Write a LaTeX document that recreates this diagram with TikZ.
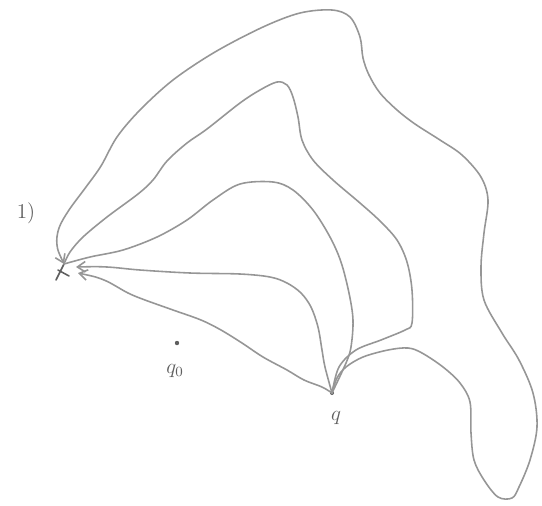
\documentclass[tikz,border=0pt]{standalone}
\usepackage{amsmath}
\usetikzlibrary{arrows.meta,calc}
\definecolor{pencil}{RGB}{150,150,150}
\definecolor{pencilD}{RGB}{95,95,95}
\newcommand{\TS}{0.55}

\begin{document}
\begin{tikzpicture}[
    x=0.02cm, y=-0.02cm,
    bond/.style={draw=pencil, line width=0.9pt, line cap=round, line join=round},
    tobase/.style={bond, arrows={Straight Barb[length=4.5pt,width=6pt]-}},
    tag/.style={font=\large, text=pencilD},
  ]
  \useasboundingbox (0,0) rectangle (542,505);

  %% ================= the two points and their labels =================
  \coordinate (base) at (64,264);
  \coordinate (q)    at (332,393);
  \coordinate (qz)   at (177,343);
  \node[tag] (one)   at (26,213)  {$1)$};
  \node[tag] (qlab)  at (336,418) {$q$};
  \node[tag] (qzlab) at (175,371) {$q_{0}$};
  \fill[pencilD] (qz) circle (2.2);
  \fill[pencilD] (q)  circle (2.0);
  \draw[bond, draw=pencilD] (base) -- +(-8,16);   % the little cross at the base point
  \draw[bond, draw=pencilD] (base) ++(-6,6) -- +(11,6);

  %% ================= the five paths from q back to the base =================
  %% ---- outer one: over the top and round the lobe ----
  \draw[tobase] plot[smooth, tension=\TS] coordinates {
    (base) (57,245) (59,228) (69,210) (86,187) (101,166) (117,137)
    (140,110) (173,80) (215,52) (263,27) (300,13) (332,10) (350,17) (360,37)
    (363,58) (369,75) (380,93) (397,110) (415,124) (440,140) (462,155)
    (481,177) (488,200) (484,233) (481,267) (484,300) (502,333) (519,360)
    (533,393) (537,427) (530,460) (519,487) (512,498) (498,497) (484,480)
    (474,460) (471,433) (470,402) (460,383) (443,367) (422,353) (408,348)
    (388,350) (363,357) (346,367) (337,378) (q)};

  %% ---- second one ----
  \draw[bond] plot[smooth, tension=\TS] coordinates {
    (base) (70,252) (83,237) (107,217) (138,194) (153,180) (167,161)
    (187,143) (207,129) (240,103) (260,90) (277,82) (287,85) (293,97)
    (298,117) (302,140) (313,160) (333,180) (360,203) (380,221) (397,240)
    (407,262) (412,290) (412,323) (405,330) (381,340) (356,350) (339,367) (q)};

  %% ---- third one ----
  \draw[bond] plot[smooth, tension=\TS] coordinates {
    (base) (90,257) (123,250) (157,237) (187,220) (213,200) (240,184)
    (273,182) (293,190) (313,210) (330,237) (341,262) (349,293) (353,320)
    (351,347) (346,363) (q)};

  %% ---- fourth one ----
  \draw[tobase] plot[smooth, tension=\TS] coordinates {
    ($(base)+(12,3)$) (107,267) (140,270) (190,273) (240,274) (270,277)
    (287,283) (301,293) (311,307) (318,327) (322,350) (325,367) (q)};

  %% ---- fifth one, the lowest ----
  \draw[tobase] plot[smooth, tension=\TS] coordinates {
    ($(base)+(14,9)$) (104,280) (128,293) (145,300) (173,310) (201,320)
    (221,330) (242,343) (263,357) (287,370) (304,380) (322,387) (q)};

\end{tikzpicture}
\end{document}
